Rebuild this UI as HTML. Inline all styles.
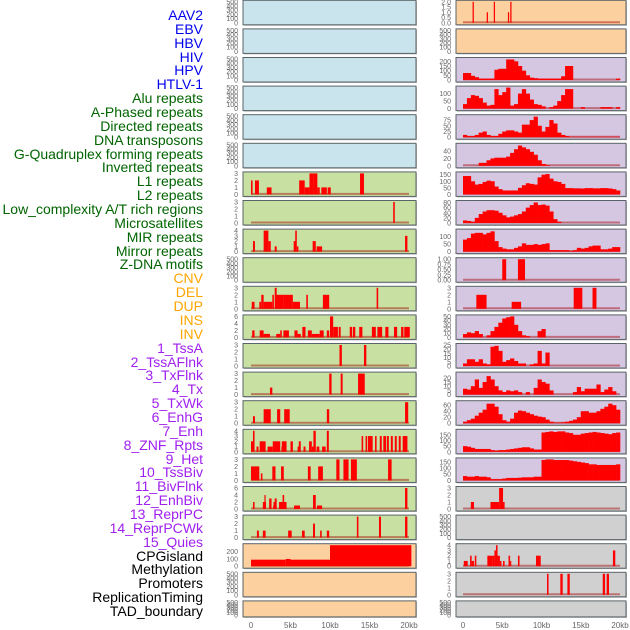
<!DOCTYPE html>
<html><head><meta charset="utf-8">
<style>
body{margin:0;background:#fff;width:630px;height:630px;overflow:hidden;font-family:"Liberation Sans",sans-serif}
#labels div{position:absolute;right:427px;font-size:14px;line-height:14px;white-space:nowrap}
</style></head>
<body>
<div id="labels"></div>
<svg id="chart" width="630" height="630" style="position:absolute;left:0;top:0"></svg>
<script>
const trackNames=["AAV2","EBV","HBV","HIV","HPV","HTLV-1","Alu repeats","A-Phased repeats","Directed repeats","DNA transposons","G-Quadruplex forming repeats","Inverted repeats","L1 repeats","L2 repeats","Low_complexity A/T rich regions","Microsatellites","MIR repeats","Mirror repeats","Z-DNA motifs","CNV","DEL","DUP","INS","INV","1_TssA","2_TssAFlnk","3_TxFlnk","4_Tx","5_TxWk","6_EnhG","7_Enh","8_ZNF_Rpts","9_Het","10_TssBiv","11_BivFlnk","12_EnhBiv","13_ReprPC","14_ReprPCWk","15_Quies","CPGisland","Methylation","Promoters","ReplicationTiming","TAD_boundary"];
const trackColors=[6,"#0000ee",13,"#006400",5,"#ffa500",15,"#a020f0",5,"#000000"];
const xTicks=[0,5,10,15,20];
const xTickLabels=["0","5kb","10kb","15kb","20kb"];
const emptyTicks=[0,100,200,300,400,500];
// left column bars [startKb,endKb,value]
const L6=[[0,0.2,2],[0.5,1.0,2],[2.0,2.6,1],[6.1,6.8,2],[6.8,7.4,1],[7.4,7.9,3],[7.9,8.4,3],[8.4,8.7,1],[8.9,9.6,1],[9.7,10.1,1],[13.8,14.3,3]];
const L7=[[18.0,18.2,3]];
const L8=[[0.25,0.5,2],[1.6,2.2,4],[2.2,2.5,2],[3.0,3.25,1],[5.4,5.65,2],[5.6,5.8,4],[5.8,6.0,1],[7.8,8.2,2],[8.3,9.0,1],[19.5,19.8,3]];
const L10=[[0.1,0.45,1],[1.05,1.3,1],[1.3,1.6,2],[1.6,2.7,1],[2.7,2.9,2],[3.0,3.25,3],[3.2,4.1,2],[4.1,5.3,2],[5.3,6.2,1],[7.0,7.2,2],[9.1,9.9,2],[15.9,16.1,3]];
const L11=[[0.15,0.45,2],[1.1,1.6,2],[1.6,2.4,1],[3.2,3.7,1],[3.7,3.9,2],[4.1,4.8,2],[5.5,5.9,2],[5.9,6.3,1],[6.5,6.9,3],[7.2,7.7,2],[7.7,8.7,1],[8.7,9.2,2],[9.6,9.9,2],[10.0,10.4,6],[10.4,11.0,3],[11.1,11.35,3],[12.5,12.8,3],[12.9,13.2,3],[13.7,14.1,3],[15.3,15.8,3],[16.0,16.6,3],[17.0,17.4,3],[18.1,18.5,3],[19.0,19.3,3],[19.4,20.1,3]];
const L12=[[11.2,11.5,3],[14.3,14.6,3]];
const L13=[[2.4,2.7,1],[9.9,10.2,3],[11.35,11.6,3],[13.55,14.4,3]];
const L14=[[0.25,0.5,1],[1.6,2.5,2],[3.3,3.7,2],[4.2,4.9,2],[9.6,9.9,2],[19.5,19.9,3]];
const L15=[[0,0.3,2],[0.25,0.45,4],[0.7,0.95,1],[1.1,1.85,2],[2.1,2.75,1],[2.75,3.7,2],[3.85,4.05,1],[3.9,4.5,2],[5.0,5.3,2],[5.9,6.15,1],[6.05,6.3,2],[6.65,6.9,1],[7.35,7.7,2],[7.7,7.9,1],[7.9,8.2,4],[8.3,8.65,1],[9.0,9.45,1],[9.6,9.85,4],[14.0,14.2,3],[14.5,14.7,3],[14.8,15.4,3],[15.7,15.9,3],[16.3,16.55,3],[16.75,17.1,3],[17.2,17.45,3],[17.7,17.95,3],[18.2,18.45,3],[18.7,18.95,3],[19.2,19.8,3]];
const L16=[[0,1.05,2],[1.25,1.45,1],[2.7,3.1,2],[3.8,4.15,2],[7.2,7.55,2],[8.5,9.1,2],[10.8,11.2,3],[11.7,12.35,3],[12.65,13.4,3],[17.35,17.8,3]];
const L17=[[0.25,0.45,2],[1.5,1.9,2],[1.7,1.85,4],[2.3,2.6,3],[2.8,3.0,1],[2.85,3.15,2],[3.0,3.25,3],[3.55,4.5,2],[4.0,4.2,4],[5.45,6.2,1],[7.85,8.2,4],[8.35,9.0,1],[19.5,19.8,6]];
const L18=[[0.75,1.0,1],[1.5,1.85,1],[4.7,5.15,1],[6.45,6.8,1],[7.85,8.1,2],[8.75,8.95,1],[9.6,9.9,1],[13.4,13.6,3],[16.2,16.45,3],[19.5,19.8,3]];
const L19=[[0,4.4,90],[4.4,5.0,100],[5.0,10.0,90],[10.0,20.3,300]];
// right column
const R0=[[1.22,1.38,2],[3.02,3.18,1],[3.92,4.08,2],[5.72,5.88,1],[6.02,6.18,2]];
const R2=[75,75,45,30,15,15,15,15,110,120,120,220,220,200,150,100,50,25,20,15,15,15,15,15,15,40,150,150,0,0,0,0,0,0,0,0,0,0,0,15];
const R3=[30,70,90,85,70,40,20,25,130,90,110,140,20,30,100,130,100,60,30,25,15,0,10,20,50,90,130,130,0,0,10,0,0,0,0,10,10,10,0,10];
const R4=[10,5,5,10,20,25,10,5,5,15,25,30,30,25,20,55,55,75,90,50,25,45,75,60,20,10,5,2,2,2,2,2,2,2,2,2,2,2,2,2];
const R5=[0,0,0,0,8,8,15,20,22,22,22,25,35,45,55,50,45,38,30,15,5,2,0,0,0,0,0,0,0,0,0,0,0,0,0,0,0,0,0,0];
const R6=[140,140,100,75,80,95,105,100,60,40,30,30,30,30,50,70,85,80,75,130,150,155,120,100,95,80,48,48,46,46,45,48,48,46,46,48,48,45,40,30];
const R7=[10,8,5,20,35,45,50,50,48,40,30,22,25,30,35,45,60,70,80,70,72,68,45,15,5,0,0,0,0,0,0,0,0,0,0,0,0,0,0,0];
const R8=[80,90,120,125,125,115,125,135,70,30,20,15,15,25,35,55,45,45,50,45,50,55,10,10,10,10,10,5,10,25,20,25,35,40,40,15,15,20,30,30];
const R9=[[5.0,5.5,1],[7.0,7.9,1]];
const R10=[[1.7,3.0,2],[6.2,7.4,1],[14.1,15.2,3],[16.5,17.0,3]];
const R11=[8,12,10,15,8,0,5,15,25,35,45,48,50,30,15,5,3,0,0,15,20,0,0,0,0,0,0,0,0,0,0,0,0,0,0,0,0,0,0,0];
const R12=[3,8,8,5,8,3,2,23,24,18,5,7,9,6,3,3,0,2,3,18,3,16,0,0,0,0,0,0,0,0,0,0,0,0,0,0,0,0,0,0];
const R13=[7,6,10,18,8,15,22,18,10,5,3,5,4,5,3,0,3,0,8,18,15,13,5,0,0,0,0,0,3,9,4,7,7,7,12,3,6,9,4,0];
const R14=[5,10,15,25,35,45,65,65,55,30,10,5,15,35,42,40,35,30,25,22,20,12,5,2,2,3,5,8,12,20,40,40,35,35,40,48,55,65,60,45];
const R15=[50,45,35,25,25,25,25,15,10,15,15,20,25,30,35,40,40,30,20,20,170,175,180,175,180,180,170,165,150,150,160,165,170,175,170,165,160,155,165,170];
const R16=[35,30,30,35,30,30,25,10,10,10,15,20,20,20,22,25,25,25,30,30,165,170,170,165,165,165,165,160,155,150,145,140,130,130,125,125,125,125,125,130];
const R17=[[1.0,1.4,1],[3.5,4.6,1],[4.6,5.1,3],[5.1,5.3,1]];
const R19=[[0.1,0.6,1],[0.9,1.1,2],[1.1,1.4,1],[1.5,1.7,2],[3.1,3.8,2],[3.8,4.0,2],[4.0,4.2,3],[4.2,4.4,4],[4.4,4.7,2],[4.7,4.9,1],[5.1,5.3,1],[5.8,6.0,2],[6.0,6.1,1],[7.0,7.2,2],[9.3,9.9,2],[19.1,19.4,3]];
const R20=[[10.7,10.9,3],[12.4,12.7,3],[13.3,13.6,3],[17.8,18.1,3],[18.3,18.6,3]];

const BLUE="#c9e4ec",GREEN="#c8e1a3",ORANGE="#fdd09f",PURPLE="#d5c6e1",GRAY="#d0d0d0";
const T3=[0,1,2,3],T4=[0,1,2,3,4],T6=[0,2,4,6];
const panels=[];
function P(col,row,bg,ymax,ticks,bars,prof,tl){panels.push({col,row,bg,ymax,ticks,bars,prof,tl});}
for(let i=0;i<6;i++)P(0,i,BLUE,500,emptyTicks);
P(0,6,GREEN,3,T3,L6);P(0,7,GREEN,3,T3,L7);P(0,8,GREEN,4,T4,L8);P(0,9,GREEN,500,emptyTicks);
P(0,10,GREEN,3,T3,L10);P(0,11,GREEN,6,T6,L11);P(0,12,GREEN,3,T3,L12);P(0,13,GREEN,3,T3,L13);
P(0,14,GREEN,3,T3,L14);P(0,15,GREEN,4,T4,L15);P(0,16,GREEN,3,T3,L16);P(0,17,GREEN,6,T6,L17);P(0,18,GREEN,3,T3,L18);
P(0,19,ORANGE,290,[0,100,200],L19);P(0,20,ORANGE,500,emptyTicks);P(0,21,ORANGE,500,emptyTicks);
P(1,0,ORANGE,2,[0,0.5,1,1.5,2],R0,null,["0.0","0.5","1.0","1.5","2.0"]);P(1,1,ORANGE,500,emptyTicks);
P(1,2,PURPLE,225,[0,50,100,150,200],null,R2);P(1,3,PURPLE,140,[0,50,100],null,R3);
P(1,4,PURPLE,92,[0,25,50,75],null,R4);P(1,5,PURPLE,57,[0,20,40],null,R5);
P(1,6,PURPLE,160,[0,50,100,150],null,R6);P(1,7,PURPLE,82,[0,20,40,60,80],null,R7);
P(1,8,PURPLE,140,[0,50,100],null,R8);P(1,9,PURPLE,1,[0,0.25,0.5,0.75,1],R9,null,["0.00","0.25","0.50","0.75","1.00"]);
P(1,10,PURPLE,3,T3,R10);P(1,11,PURPLE,50,[0,10,20,30,40,50],null,R11);
P(1,12,PURPLE,25,[0,5,10,15,20,25],null,R12);P(1,13,PURPLE,25,[0,5,10,15,20],null,R13);
P(1,14,PURPLE,70,[0,20,40,60],null,R14);P(1,15,PURPLE,185,[0,50,100,150],null,R15);
P(1,16,PURPLE,170,[0,50,100,150],null,R16);P(1,17,GRAY,3,T3,R17);P(1,18,GRAY,500,emptyTicks);
P(1,19,GRAY,4,T4,R19);P(1,20,GRAY,3,T3,R20);P(1,21,GRAY,500,emptyTicks);

const NS="http://www.w3.org/2000/svg";
const svg=document.getElementById("chart");
function mk(tag,attrs,parent){const e=document.createElementNS(NS,tag);for(const k in attrs)e.setAttribute(k,attrs[k]);(parent||svg).appendChild(e);return e;}
const colGeom=[{x0:243,x1:416,z:251,t:409},{x0:456,x1:626,z:463,t:620}];
function xs(col,kb){const g=colGeom[col];return g.z+(g.t-g.z)*kb/20;}
function rowTop(r){return 0.3+28.6*r;}
function rowH(r){return r===21?16:24.5;}

panels.forEach(p=>{
  const g=colGeom[p.col],top=rowTop(p.row),h=rowH(p.row),bot=top+h;
  const y0=bot-2,y1=top+1.5;
  const ys=v=>y0-(y0-y1)*v/p.ymax;
  const grp=mk("g",{});
  
  
  mk("rect",{x:g.x0+1,y:top+1,width:g.x1-g.x0,height:h,fill:"#bbb"},grp);
  mk("rect",{x:g.x0,y:top,width:g.x1-g.x0,height:h,fill:p.bg,stroke:"#5a6468","stroke-width":1},grp);
  const hasData=p.bars||p.prof;
  if(hasData){
    const bl=mk("line",{x1:xs(p.col,0),x2:xs(p.col,20),y1:y0-0.5,y2:y0-0.5,stroke:"rgba(160,0,0,0.45)","stroke-width":2},grp);
    
    
  }
  if(p.bars)p.bars.forEach(b=>{
    const r=mk("rect",{x:xs(p.col,b[0]),y:ys(Math.min(b[2],p.ymax)),width:Math.max(1.2,xs(p.col,b[1])-xs(p.col,b[0])),height:y0-ys(Math.min(b[2],p.ymax)),fill:"#ff0000"},grp);
    
    
  });
  if(p.prof)p.prof.forEach((v,i)=>{
    if(v<=0)return;
    const r=mk("rect",{x:xs(p.col,i*0.5),y:ys(v),width:xs(p.col,0.5)-xs(p.col,0)+0.3,height:y0-ys(v),fill:"#ff0000"},grp);
    
    
  });
  p.ticks.forEach((t,i)=>{
    const tx=mk("text",{x:g.x0-5,y:ys(t)+2.5,"text-anchor":"end","font-size":7,fill:"#666","font-family":"Liberation Sans, sans-serif"},grp);
    tx.textContent=p.tl?p.tl[i]:String(t);
    
    
  });
});
[0,1].forEach(c=>{
  xTicks.forEach((t,i)=>{
    const tx=mk("text",{x:xs(c,t),y:628,"text-anchor":"middle","font-size":8,fill:"#666","font-family":"Liberation Sans, sans-serif"});
    tx.textContent=xTickLabels[i];
    
    
  });
});
const lab=document.getElementById("labels");
let idx=0;
for(let k=0;k<trackColors.length;k+=2){
  for(let j=0;j<trackColors[k];j++){
    const d=document.createElement("div");
    d.textContent=trackNames[idx];
    d.style.top=(8+13.86*idx)+"px";
    d.style.color=trackColors[k+1];
    
    
    lab.appendChild(d);idx++;
  }
}
</script>
</body></html>
